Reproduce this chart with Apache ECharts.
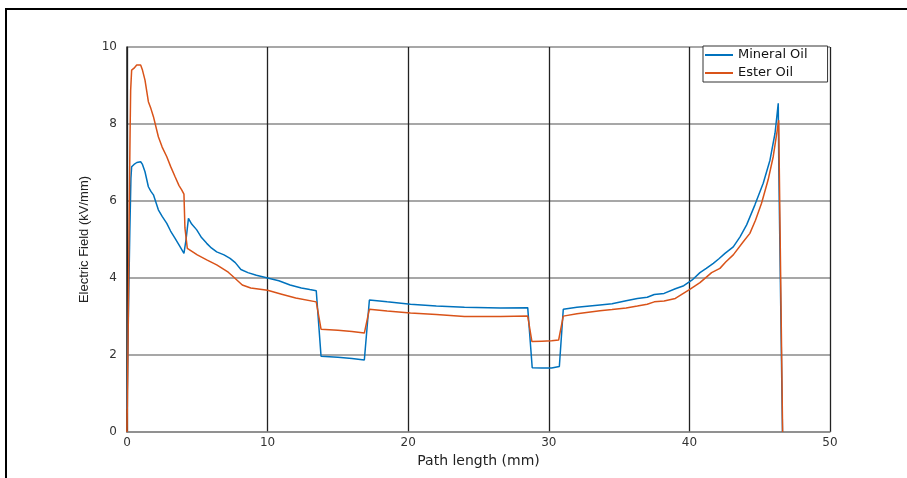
<!DOCTYPE html>
<html>
<head>
<meta charset="utf-8">
<script src="https://cdn.jsdelivr.net/npm/echarts@6/dist/echarts.min.js"></script>
<style>
  html, body { margin: 0; padding: 0; background: #fff; }
  #chart { width: 907px; height: 478px; }
</style>
</head>
<body>
<div id="chart"></div>
<script>
// Electric field along the path, [path length (mm), field (kV/mm)]
const mineralOil = [
  [0, 0.6], [0.05, 1.8], [0.12, 3.5], [0.2, 5.2], [0.28, 6.6], [0.33, 6.89],
  [0.5, 6.95], [0.7, 7.0], [0.97, 7.02], [1.1, 6.95], [1.28, 6.76], [1.52, 6.37],
  [1.7, 6.25], [1.88, 6.16], [2.23, 5.77], [2.5, 5.6], [2.83, 5.42], [3.1, 5.22],
  [3.42, 5.03], [3.75, 4.83], [4.05, 4.64], [4.2, 5.0], [4.37, 5.55], [4.6, 5.4],
  [4.96, 5.25], [5.3, 5.05], [5.67, 4.9], [6.0, 4.78], [6.38, 4.68], [6.9, 4.6],
  [7.33, 4.51], [7.7, 4.4], [8.1, 4.22], [8.6, 4.14], [9.2, 4.07], [10.0, 4.0],
  [10.8, 3.93], [11.6, 3.82], [12.4, 3.74], [13.0, 3.7], [13.46, 3.67],
  [13.8, 1.97], [15.0, 1.94], [16.0, 1.91], [16.88, 1.87],
  [17.24, 3.43], [18.5, 3.38], [20.16, 3.32], [22.0, 3.27], [24.0, 3.24],
  [26.57, 3.22], [28.5, 3.23],
  [28.82, 1.67], [29.5, 1.66], [30.2, 1.66], [30.75, 1.7],
  [31.03, 3.19], [32.0, 3.24], [33.64, 3.3], [34.5, 3.33], [35.5, 3.41],
  [36.3, 3.47], [37.0, 3.5], [37.5, 3.57], [38.2, 3.6], [39.0, 3.72],
  [39.6, 3.8], [40.2, 3.95], [40.75, 4.14], [41.2, 4.25], [41.7, 4.38],
  [42.1, 4.5], [42.53, 4.64], [43.12, 4.81], [43.6, 5.07], [44.07, 5.38],
  [44.66, 5.9], [45.25, 6.46], [45.73, 7.06], [46.09, 7.76], [46.32, 8.54],
  [46.36, 6.8], [46.62, 0]
];

const esterOil = [
  [0, 0], [0.08, 2.5], [0.15, 5.5], [0.22, 7.8], [0.26, 8.88], [0.33, 9.4],
  [0.5, 9.45], [0.69, 9.53], [0.97, 9.53], [1.1, 9.4], [1.28, 9.14], [1.52, 8.58],
  [1.7, 8.4], [1.88, 8.19], [2.23, 7.67], [2.5, 7.4], [2.83, 7.15], [3.1, 6.9],
  [3.42, 6.63], [3.7, 6.4], [3.89, 6.29], [4.05, 6.18], [4.12, 5.3], [4.29, 4.77],
  [4.4, 4.74], [5.0, 4.6], [5.67, 4.47], [6.38, 4.34], [7.2, 4.15], [7.6, 4.02],
  [8.2, 3.82], [8.8, 3.74], [10.0, 3.68], [11.0, 3.58], [12.0, 3.48], [13.46, 3.38],
  [13.8, 2.67], [15.0, 2.64], [16.0, 2.61], [16.88, 2.57],
  [17.24, 3.19], [18.5, 3.14], [20.16, 3.09], [22.0, 3.05], [24.0, 3.0],
  [26.57, 3.0], [28.5, 3.01],
  [28.8, 2.35], [29.5, 2.36], [30.2, 2.37], [30.7, 2.39],
  [31.03, 3.01], [32.0, 3.07], [33.64, 3.15], [34.5, 3.18], [35.5, 3.22],
  [36.3, 3.27], [37.0, 3.32], [37.5, 3.38], [38.2, 3.4], [39.0, 3.47],
  [40.0, 3.7], [40.75, 3.88], [41.58, 4.14], [42.17, 4.25], [42.6, 4.42],
  [43.12, 4.6], [43.83, 4.94], [44.3, 5.16], [44.7, 5.5], [45.13, 5.94],
  [45.6, 6.55], [45.96, 7.15], [46.25, 7.84], [46.35, 8.1], [46.63, 0]
];

const seriesNames = ['Mineral Oil', 'Ester Oil'];
const seriesColors = ['#0072BD', '#D95319'];

const chart = echarts.init(document.getElementById('chart'), null, { renderer: 'canvas' });

chart.setOption({
  animation: false,
  backgroundColor: '#fff',
  graphic: [{
    type: 'rect',
    silent: true,
    z: 100,
    shape: { x: 6, y: 9, width: 1000, height: 600 },
    style: { fill: 'none', stroke: '#000', lineWidth: 2 }
  }],
  grid: { left: 127, right: 77, top: 47, bottom: 46, containLabel: false },
  legend: {
    data: seriesNames,
    orient: 'vertical',
    left: 703,
    top: 46,
    icon: 'rect',
    itemWidth: 28,
    itemHeight: 2,
    itemGap: 2,
    padding: [1, 20, 1, 2],
    borderColor: '#333',
    borderWidth: 1,
    backgroundColor: '#fff',
    textStyle: { fontFamily: 'DejaVu Sans', fontSize: 13, color: '#111', lineHeight: 16 }
  },
  xAxis: {
    type: 'value',
    min: 0, max: 50, interval: 10,
    name: 'Path length (mm)',
    nameLocation: 'middle',
    nameGap: 19,
    nameTextStyle: { fontFamily: 'DejaVu Sans', fontSize: 14, color: '#222' },
    axisLine: { show: true, lineStyle: { color: '#8a8a8a', width: 1.5 } },
    axisTick: { show: false },
    axisLabel: { margin: 5, fontFamily: 'DejaVu Sans', fontSize: 12, color: '#333' },
    splitLine: { show: true, lineStyle: { color: '#222', width: 1.3 } }
  },
  yAxis: {
    type: 'value',
    min: 0, max: 10, interval: 2,
    name: 'Electric Field (kV/mm)',
    nameLocation: 'middle',
    nameGap: 32,
    nameTextStyle: { fontFamily: 'Liberation Sans', fontSize: 13, color: '#222' },
    axisLine: { show: true, lineStyle: { color: '#222', width: 1.5 } },
    axisTick: { show: false },
    axisLabel: { margin: 10, fontFamily: 'DejaVu Sans', fontSize: 12, color: '#333' },
    splitLine: { show: true, lineStyle: { color: '#8a8a8a', width: 1.5 } }
  },
  series: [
    {
      name: seriesNames[0], type: 'line', data: mineralOil,
      showSymbol: false, symbol: 'none',
      lineStyle: { color: seriesColors[0], width: 1.5 },
      itemStyle: { color: seriesColors[0] }
    },
    {
      name: seriesNames[1], type: 'line', data: esterOil,
      showSymbol: false, symbol: 'none',
      lineStyle: { color: seriesColors[1], width: 1.5 },
      itemStyle: { color: seriesColors[1] }
    }
  ]
});
</script>
</body>
</html>
